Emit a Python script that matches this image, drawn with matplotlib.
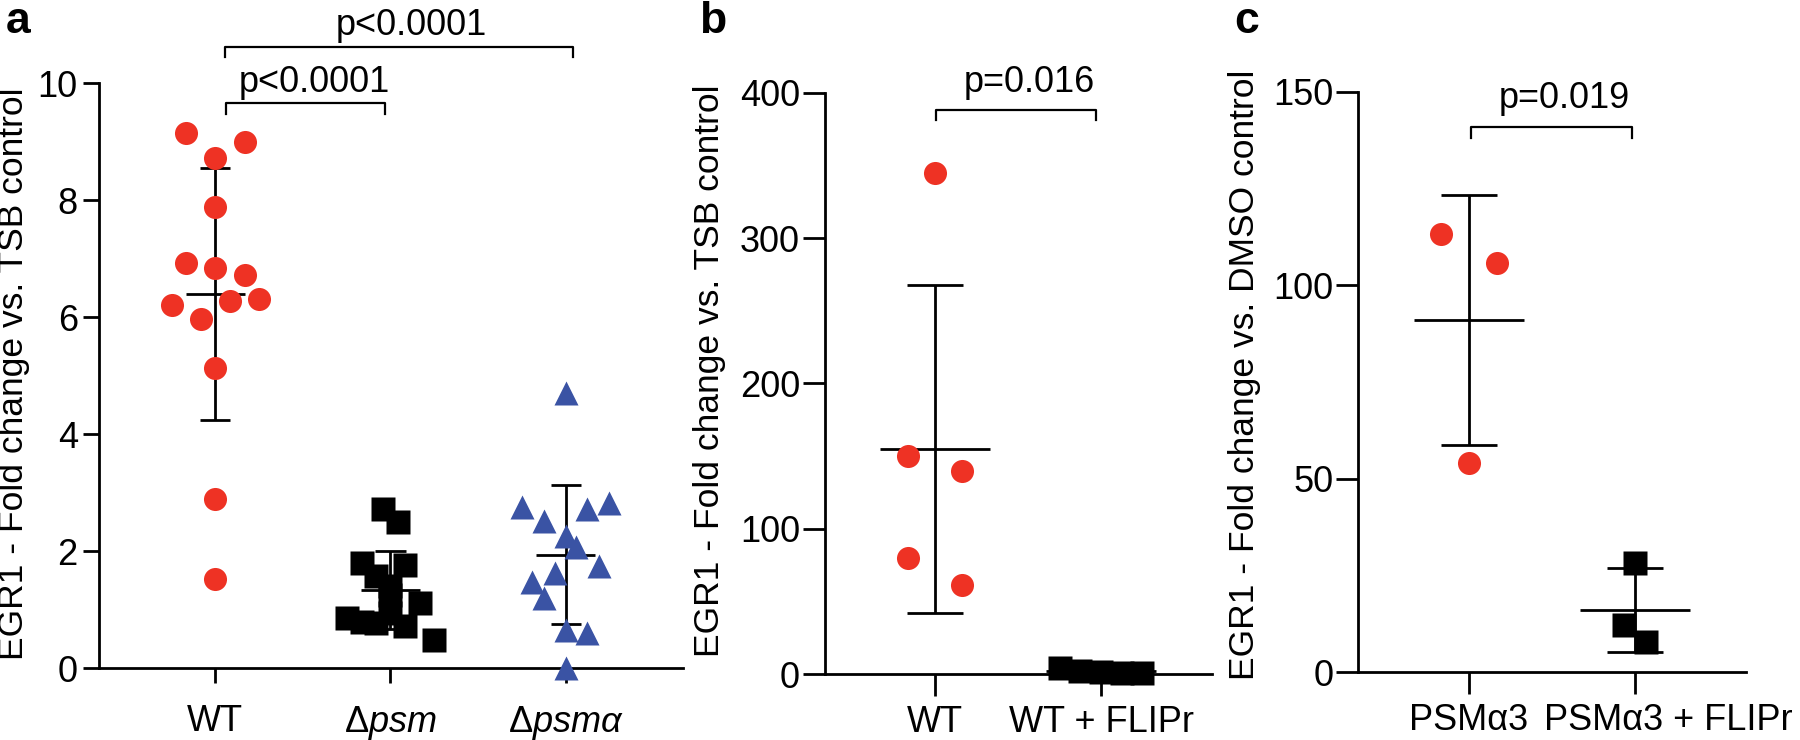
import numpy as np
import matplotlib
matplotlib.use('Agg')
import matplotlib.pyplot as plt
from matplotlib.transforms import ScaledTranslation

plt.rcParams['font.family'] = ['Liberation Sans', 'DejaVu Sans']
plt.rcParams['mathtext.fontset'] = 'custom'
plt.rcParams['mathtext.rm'] = 'Liberation Sans'
plt.rcParams['mathtext.it'] = 'Liberation Sans:italic'

RED = '#EE3224'
BLUE = '#3A53A4'
BLACK = '#000000'

# ---- panel a: EGR1 fold change, S. aureus strains
a_labels = ['WT', r'$\Delta psm$', r'$\Delta psm\alpha$']
a_wt = [9.15, 8.99, 8.73, 7.88, 6.93, 6.85, 6.73, 6.32, 6.28, 6.21, 5.97, 5.14, 2.89, 1.52]
a_wt_jit = [-0.165, 0.17, 0, 0, -0.165, 0, 0.17, 0.25, 0.085, -0.245, -0.08, 0, 0, 0]
a_psm = [2.72, 2.50, 1.80, 1.76, 1.58, 1.40, 1.25, 1.12, 0.95, 0.86, 0.80, 0.78, 0.72, 0.48]
a_psm_jit = [-0.04, 0.045, -0.165, 0.085, -0.08, 0, 0, 0.17, 0, -0.25, -0.165, -0.08, 0.085, 0.25]
a_psma = [4.70, 2.83, 2.75, 2.72, 2.52, 2.27, 2.08, 1.75, 1.63, 1.48, 1.20, 0.65, 0.61, 0.0]
a_psma_jit = [0, 0.25, -0.25, 0.125, -0.125, 0, 0.06, 0.19, -0.06, -0.19, -0.125, 0, 0.125, 0]
a_pvals = ['p<0.0001', 'p<0.0001']

# ---- panel b: WT supernatant +/- FLIPr
b_labels = ['WT', 'WT + FLIPr']
b_wt = [345, 150, 140, 79.5, 61]
b_wt_jit = [0, -0.165, 0.165, -0.165, 0.165]
b_flipr = [4.2, 2.4, 1.5, 1.0, 0.6]
b_flipr_jit = [-0.25, -0.125, 0, 0.125, 0.25]
b_pval = 'p=0.016'

# ---- panel c: PSMa3 +/- FLIPr
c_labels = ['PSMα3', 'PSMα3 + FLIPr']
c_psm3 = [113.3, 105.8, 54.1]
c_psm3_jit = [-0.168, 0.166, 0]
c_flipr = [28.3, 12.2, 7.7]
c_flipr_jit = [0, -0.067, 0.065]
c_pval = 'p=0.019'

W, H = 1800, 740
FS = 26
LABEL_FS = 25.5


def px_axes(fig, left, right, top, bottom):
    return fig.add_axes([left / W, 1 - bottom / H, (right - left) / W, (bottom - top) / H])


def draw_group(ax, pos, values, jitter, marker, color, ms, mean_w, cap_w):
    values = np.asarray(values, dtype=float)
    m = values.mean()
    sd = values.std(ddof=1)
    kw = dict(color=BLACK, lw=2.0, zorder=2, solid_capstyle='butt')
    ax.plot([pos, pos], [m - sd, m + sd], **kw)
    ax.plot([pos - cap_w, pos + cap_w], [m + sd, m + sd], **kw)
    ax.plot([pos - cap_w, pos + cap_w], [m - sd, m - sd], **kw)
    ax.plot([pos - mean_w, pos + mean_w], [m, m], **kw)
    ax.plot(pos + np.asarray(jitter), values, linestyle='none', marker=marker,
            ms=ms, mfc=color, mec='none', zorder=3, clip_on=False)


def bracket(ax, x0, x1, y_top, y_leg, text, tx, ty):
    ax.plot([x0, x0, x1, x1], [y_leg, y_top, y_top, y_leg], color=BLACK,
            lw=1.6, clip_on=False)
    ax.text(tx, ty, text, ha='center', va='baseline', fontsize=FS)


def style(ax, xlim, ylim, yticks, labels, ylabel, lab_xy, ylen, ypad, xlen, xpad):
    ax.set_xlim(*xlim)
    ax.set_ylim(*ylim)
    ax.set_yticks(yticks)
    ax.set_xticks(range(len(labels)))
    ax.set_xticklabels(labels)
    for s in ['top', 'right']:
        ax.spines[s].set_visible(False)
    for s in ['left', 'bottom']:
        ax.spines[s].set_linewidth(2.0)
    ax.tick_params(axis='y', length=ylen, width=2.0, pad=ypad, labelsize=FS)
    ax.tick_params(axis='x', length=xlen, width=2.0, pad=xpad, labelsize=FS)
    ax.set_ylabel(ylabel, fontsize=LABEL_FS)
    ax.yaxis.set_label_coords(*lab_xy)


fig = plt.figure(figsize=(W / 100, H / 100), dpi=100)

# panel a
ax = px_axes(fig, 99.3, 682.7, 83.3, 668.3)
draw_group(ax, 0, a_wt, a_wt_jit, 'o', RED, 16.6, 0.168, 0.086)
draw_group(ax, 1, a_psm, a_psm_jit, 's', BLACK, 16.8, 0.168, 0.086)
draw_group(ax, 2, a_psma, a_psma_jit, '^', BLUE, 16.6, 0.168, 0.086)
style(ax, (-0.663, 2.669), (0, 10), [0, 2, 4, 6, 8, 10], a_labels,
      'EGR1 - Fold change vs. TSB control', (-0.119, 0.503), 11.5, 4, 11, 15)
bracket(ax, 0.06, 0.97, 9.66, 9.48, a_pvals[0], 0.567, 9.85)
bracket(ax, 0.053, 2.04, 10.62, 10.45, a_pvals[1], 1.12, 10.83)

# panel b
ax = px_axes(fig, 825, 1211.7, 92.7, 674)
draw_group(ax, 0, b_wt, b_wt_jit, 'o', RED, 16.6, 0.33, 0.168)
draw_group(ax, 1, b_flipr, b_flipr_jit, 's', BLACK, 16.8, 0.33, 0.168)
style(ax, (-0.663, 1.667), (0, 400), [0, 100, 200, 300, 400], b_labels,
      'EGR1 - Fold change vs. TSB control', (-0.256, 0.522), 16, 2, 16, 6)
bracket(ax, 0.006, 0.97, 388, 381, b_pval, 0.566, 400.5)

# panel c
ax = px_axes(fig, 1358.3, 1746, 91.7, 672.3)
draw_group(ax, 0, c_psm3, c_psm3_jit, 'o', RED, 16.6, 0.33, 0.17)
draw_group(ax, 1, c_flipr, c_flipr_jit, 's', BLACK, 16.8, 0.33, 0.17)
style(ax, (-0.667, 1.669), (0, 150), [0, 50, 100, 150], c_labels,
      'EGR1 - Fold change vs. DMSO control', (-0.251, 0.512), 16, 2, 16, 6)
bracket(ax, 0.01, 0.98, 141, 138.1, c_pval, 0.576, 145.9)
# second label sits to the right of its tick so it clears the first one
lab = ax.get_xticklabels()[1]
lab.set_ha('left')
lab.set_transform(lab.get_transform() + ScaledTranslation(-0.91, 0, fig.dpi_scale_trans))

# panel letters
for x, letter in [(6, 'a'), (699, 'b'), (1234, 'c')]:
    fig.text(x / W, 1 - 33 / H, letter, fontsize=32, fontweight='bold',
             ha='left', va='baseline')

fig.savefig('out.png', dpi=100)
